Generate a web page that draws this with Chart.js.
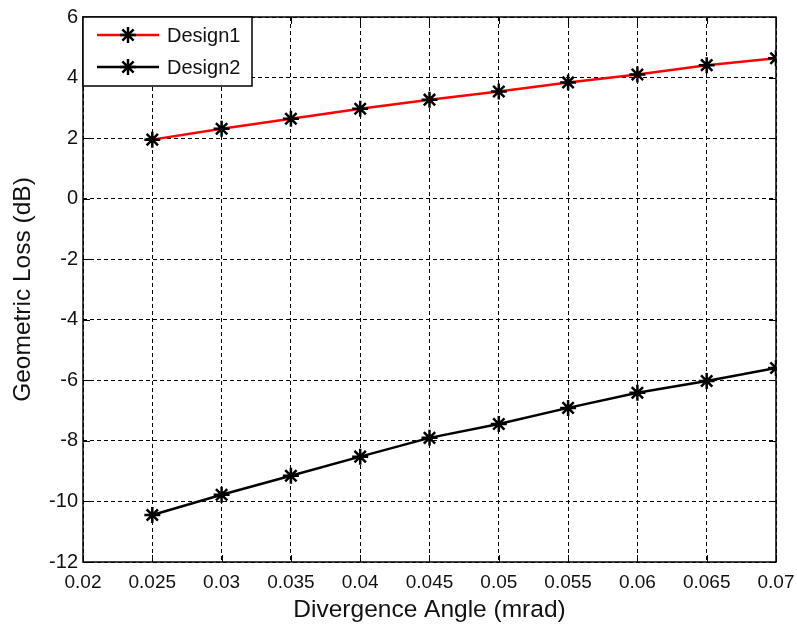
<!DOCTYPE html>
<html lang="en">
	<head>
		<meta charset="UTF-8" />
		<title>Geometric Loss vs Divergence Angle</title>
		<script src="https://cdn.jsdelivr.net/npm/chart.js"></script>
		<style>
			html, body {
				margin: 0;
				padding: 0;
				background: #fff;
			}
			.wrap {
				width: 797px;
				height: 628px;
			}
		</style>
	</head>
	<body>
		<div class="wrap"><canvas id="lossChart"></canvas></div>

		<script>
			// divergence angle (mrad)
			const angles = [0.025, 0.03, 0.035, 0.04, 0.045, 0.05, 0.055, 0.06, 0.065, 0.07];
			const design1 = [1.95, 2.31, 2.64, 2.97, 3.27, 3.54, 3.84, 4.1, 4.41, 4.64];
			const design2 = [-10.45, -9.78, -9.15, -8.52, -7.9, -7.44, -6.91, -6.41, -6.02, -5.59];
			const seriesNames = ["Design1", "Design2"];
			const seriesColors = ["#ff0000", "#000000"];

			const font = "'Liberation Sans', Arial, sans-serif";

			// matlab style frame, inner ticks and legend box
			const matlabFrame = {
				id: "matlabFrame",
				afterDraw(chart) {
					const { ctx, chartArea: a, scales } = chart;
					ctx.save();
					ctx.strokeStyle = "#000";
					ctx.lineWidth = 1;
					ctx.setLineDash([]);
					const tl = 7;
					ctx.beginPath();
					scales.x.ticks.forEach((t) => {
						const px = Math.round(scales.x.getPixelForValue(t.value)) + 0.5;
						ctx.moveTo(px, a.bottom); ctx.lineTo(px, a.bottom - tl);
						ctx.moveTo(px, a.top); ctx.lineTo(px, a.top + tl);
					});
					scales.y.ticks.forEach((t) => {
						const py = Math.round(scales.y.getPixelForValue(t.value)) + 0.5;
						ctx.moveTo(a.left, py); ctx.lineTo(a.left + tl, py);
						ctx.moveTo(a.right, py); ctx.lineTo(a.right - tl, py);
					});
					ctx.stroke();
					ctx.lineWidth = 1.5;
					ctx.strokeRect(a.left, a.top, a.right - a.left, a.bottom - a.top);

					// legend
					const bx = a.left, by = a.top, bw = 169, bh = 69;
					ctx.fillStyle = "#fff";
					ctx.fillRect(bx, by, bw, bh);
					ctx.lineWidth = 1.5;
					ctx.strokeRect(bx, by, bw, bh);
					ctx.font = "20px " + font;
					ctx.textBaseline = "middle";
					seriesNames.forEach((name, i) => {
						const ly = by + 18 + i * 32;
						ctx.strokeStyle = seriesColors[i];
						ctx.lineWidth = 2.5;
						ctx.beginPath();
						ctx.moveTo(bx + 14, ly);
						ctx.lineTo(bx + 76, ly);
						ctx.stroke();
						ctx.strokeStyle = "#000";
						ctx.beginPath();
						const cx = bx + 45, r = 8;
						for (let k = 0; k < 4; k++) {
							const ang = (k * Math.PI) / 4;
							ctx.moveTo(cx - r * Math.cos(ang), ly - r * Math.sin(ang));
							ctx.lineTo(cx + r * Math.cos(ang), ly + r * Math.sin(ang));
						}
						ctx.stroke();
						ctx.fillStyle = "#111";
						ctx.fillText(name, bx + 84, ly + 1);
					});
					ctx.restore();
				},
			};

			const ctx = document.getElementById("lossChart").getContext("2d");
			new Chart(ctx, {
				type: "line",
				data: {
					labels: angles,
					datasets: [
						{
							label: seriesNames[0],
							data: angles.map((x, i) => ({ x: x, y: design1[i] })),
							borderColor: seriesColors[0],
							borderWidth: 2.5,
							pointStyle: "star",
							pointRadius: 8,
							pointBorderWidth: 2.5,
							pointBorderColor: "#000",
							pointBackgroundColor: "#000",
						},
						{
							label: seriesNames[1],
							data: angles.map((x, i) => ({ x: x, y: design2[i] })),
							borderColor: seriesColors[1],
							borderWidth: 2.5,
							pointStyle: "star",
							pointRadius: 8,
							pointBorderWidth: 2.5,
							pointBorderColor: "#000",
							pointBackgroundColor: "#000",
						},
					],
				},
				options: {
					responsive: true,
					maintainAspectRatio: false,
					animation: false,
					layout: {
						padding: { left: 0, right: 21, top: 17, bottom: 0 },
					},
					plugins: {
						legend: { display: false },
						tooltip: { enabled: false },
					},
					scales: {
						x: {
							type: "linear",
							min: 0.02,
							max: 0.07,
							afterFit: (s) => {
								s.height = 66;
								s.paddingLeft = 0;
								s.paddingRight = 0;
							},
							ticks: {
								stepSize: 0.005,
								padding: 9,
								color: "#111",
								font: { family: font, size: 19 },
								callback: (v) => parseFloat(v.toFixed(3)).toString(),
							},
							grid: {
								color: "#000",
								lineWidth: 1,
								drawTicks: false,
							},
							border: { display: false, dash: [4, 3] },
							title: {
								display: true,
								text: "Divergence Angle (mrad)",
								color: "#111",
								font: { family: font, size: 24.5 },
								padding: { top: 0, bottom: 3 },
							},
						},
						y: {
							min: -12,
							max: 6,
							afterFit: (s) => {
								s.width = 83;
								s.paddingTop = 0;
								s.paddingBottom = 0;
							},
							ticks: {
								stepSize: 2,
								padding: 5,
								color: "#111",
								font: { family: font, size: 20 },
							},
							grid: {
								color: "#000",
								lineWidth: 1,
								drawTicks: false,
							},
							border: { display: false, dash: [4, 3] },
							title: {
								display: true,
								text: "Geometric Loss (dB)",
								color: "#111",
								font: { family: font, size: 24.5 },
								padding: { top: 9, bottom: 0 },
							},
						},
					},
				},
				plugins: [matlabFrame],
			});
		</script>
	</body>
</html>
